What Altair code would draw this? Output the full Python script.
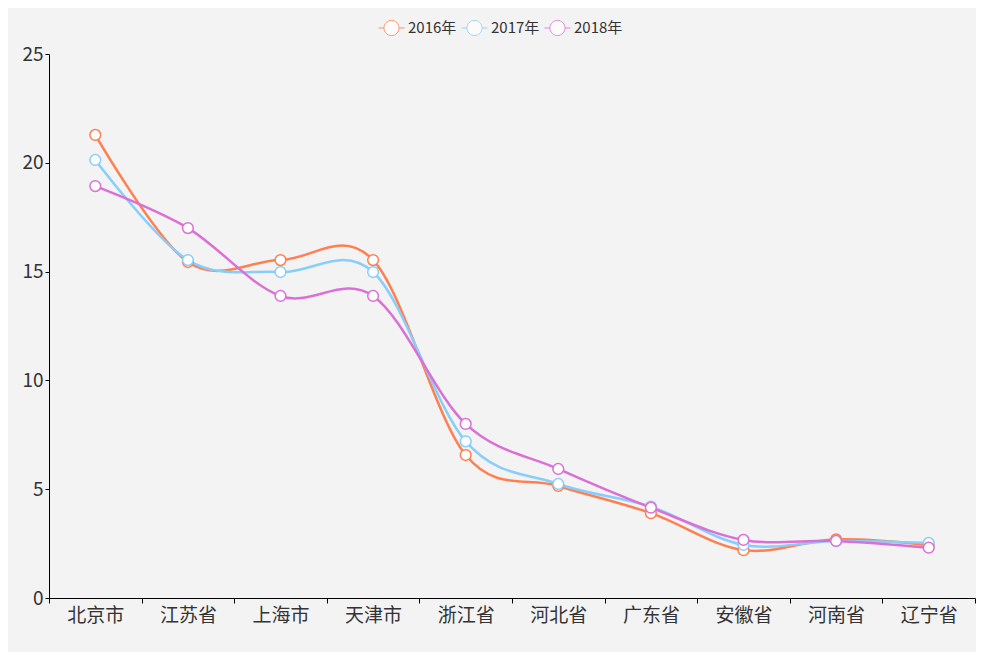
import altair as alt
import pandas as pd

cats = ["北京市", "江苏省", "上海市", "天津市", "浙江省", "河北省", "广东省", "安徽省", "河南省", "辽宁省"]
series = ["2016年", "2017年", "2018年"]
v2016 = [21.28, 15.44, 15.53, 15.53, 6.57, 5.15, 3.9, 2.2, 2.7, 2.44]
v2017 = [20.13, 15.53, 14.98, 14.98, 7.2, 5.24, 4.2, 2.44, 2.62, 2.53]
v2018 = [18.93, 17.0, 13.88, 13.88, 8.0, 5.93, 4.15, 2.67, 2.62, 2.31]
colors = ["#ff7f50", "#87cefa", "#da70d6"]
y_ticks = [0, 5, 10, 15, 20, 25]

rows = []
for s, vals in zip(series, [v2016, v2017, v2018]):
    for i, (c, v) in enumerate(zip(cats, vals)):
        rows.append({"省份": c, "系列": s, "值": v, "ord": i})
df = pd.DataFrame(rows)

FONT = "Noto Sans CJK SC"
legend_path = ("M-1,0 L-0.58,0 M0.58,0 L1,0 "
               "M-0.58,0 A0.58,0.58 0 1,0 0.58,0 A0.58,0.58 0 1,0 -0.58,0 Z")

x_enc = alt.X("省份:N", sort=cats, title=None,
              scale=alt.Scale(paddingInner=0, paddingOuter=0),
              axis=alt.Axis(labelAngle=0, tickBand="extent", labelFontSize=19,
                            labelFont=FONT, labelColor="#333", domainColor="#000",
                            tickColor="#000", tickSize=5, labelPadding=3, grid=False))
y_enc = alt.Y("值:Q", title=None,
              scale=alt.Scale(domain=[0, 25], nice=False),
              axis=alt.Axis(values=y_ticks, labelFontSize=19, labelFont=FONT,
                            labelColor="#333", domainColor="#000", tickColor="#000",
                            tickSize=4, labelPadding=2, grid=False))
color_scale = alt.Scale(domain=series, range=colors)
legend = alt.Legend(title=None, orient="none", legendX=329, legendY=-40,
                    direction="horizontal", symbolType=legend_path,
                    symbolSize=676, symbolFillColor="white",
                    symbolStrokeWidth=1, symbolOpacity=0.8, labelFont=FONT,
                    labelFontSize=15, labelColor="#333",
                    labelOffset=3, columnPadding=2)
stroke_enc = alt.Stroke("系列:N", scale=color_scale, legend=legend)

lines = alt.Chart(df).mark_line(interpolate="cardinal", strokeWidth=2.5).encode(
    x=x_enc, y=y_enc,
    stroke=stroke_enc,
    order="ord:Q",
)

points = alt.Chart(df).mark_point(filled=True, fill="white", size=115, strokeWidth=1.5,
                                  opacity=1).encode(
    x=x_enc, y=y_enc,
    stroke=stroke_enc,
)

chart = alt.layer(lines, points).properties(
    width=926, height=544,
    autosize=alt.AutoSizeParams(type="none"),
    padding={"left": 41, "top": 46, "right": 1, "bottom": 54},
    background="#f3f3f3",
).configure_view(stroke=None)

chart.save("out.html", embed_options={"renderer": "svg", "actions": False})
